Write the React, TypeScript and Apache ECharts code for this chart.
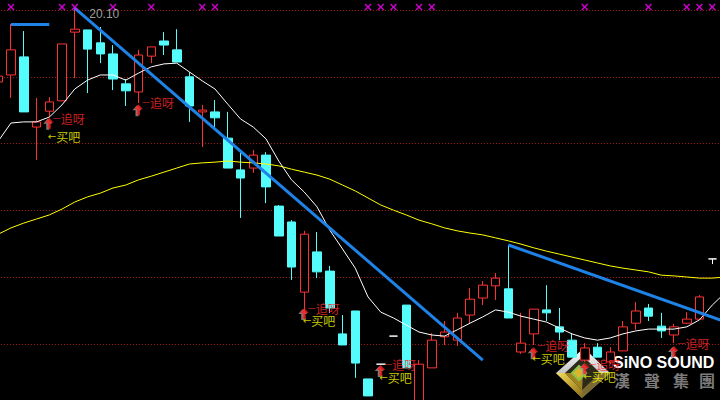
import React, { useEffect, useRef } from "react";
import * as echarts from "echarts";

// Daily candles, oldest first (the first one is cut by the left edge)
const opens = [18.10, 18.29, 18.78, 16.88, 17.31, 17.59, 19.45, 19.51, 19.16, 18.86, 18.05, 17.83, 18.80, 19.21, 18.97, 18.24, 17.29, 17.29, 16.58, 15.72, 15.77, 16.12, 14.74, 14.31, 12.41, 13.50, 12.98, 11.28, 11.90, 10.06, 10.46, 11.22, 12.06, 9.44, 10.36, 11.20, 11.11, 11.79, 12.25, 12.58, 12.50, 10.79, 11.28, 11.93, 11.47, 11.11, 10.57, 10.92, 10.52, 10.82, 11.57, 11.98, 11.49, 11.25, 11.57, 11.68, 13.31];
const closes = [18.26, 18.97, 17.29, 17.02, 17.56, 19.13, 19.53, 18.99, 18.86, 18.18, 17.86, 18.83, 19.05, 19.10, 18.64, 17.45, 17.34, 17.13, 15.77, 15.50, 16.12, 15.26, 13.93, 13.09, 13.98, 12.96, 11.98, 10.98, 10.49, 9.60, 10.46, 11.22, 10.36, 10.46, 11.11, 11.33, 11.71, 12.22, 12.60, 12.79, 11.71, 11.03, 11.95, 11.85, 11.33, 10.65, 10.90, 10.65, 10.79, 11.47, 11.90, 11.76, 11.36, 11.47, 11.68, 12.28, 13.31];
const lows = [18.05, 17.67, 17.29, 15.99, 17.15, 17.59, 18.21, 17.80, 18.61, 17.88, 17.45, 17.53, 18.61, 18.83, 18.64, 17.02, 16.34, 16.85, 15.77, 14.42, 15.64, 14.82, 13.93, 12.74, 11.85, 12.79, 11.85, 10.98, 10.09, 9.60, 10.46, 11.22, 10.36, 9.38, 10.36, 10.98, 10.95, 11.57, 12.06, 12.20, 11.71, 10.74, 10.98, 11.63, 11.11, 10.65, 10.52, 10.65, 10.46, 10.82, 11.39, 11.63, 11.17, 11.03, 11.55, 11.68, 13.17];
const highs = [18.32, 19.67, 19.48, 17.67, 17.69, 19.13, 20.10, 19.51, 19.59, 19.10, 18.18, 18.97, 19.05, 19.45, 19.53, 18.37, 17.48, 17.61, 17.29, 16.20, 16.26, 16.20, 14.77, 14.36, 14.07, 14.04, 13.12, 11.79, 11.90, 10.06, 10.46, 11.22, 12.06, 10.57, 11.30, 11.63, 11.85, 12.52, 12.71, 12.93, 13.69, 11.85, 11.95, 12.60, 11.98, 11.30, 11.03, 11.03, 10.92, 11.63, 12.14, 12.09, 11.85, 11.55, 11.87, 12.33, 13.31];

// Moving averages (one more slot than the candles, running off the right edge)
const maShort = [16.50, 16.99, 17.02, 17.02, 17.15, 17.48, 17.91, 18.15, 18.29, 18.29, 18.15, 18.34, 18.51, 18.59, 18.61, 18.37, 18.13, 17.91, 17.50, 17.10, 16.88, 16.56, 15.96, 15.45, 15.12, 14.72, 14.09, 13.58, 13.06, 12.28, 11.87, 11.71, 11.52, 11.33, 11.25, 11.22, 11.39, 11.57, 11.74, 11.93, 11.87, 11.76, 11.68, 11.60, 11.44, 11.28, 11.17, 11.11, 11.17, 11.28, 11.36, 11.41, 11.41, 11.41, 11.47, 11.66, 12.06, 12.39];
const maLong = [13.98, 14.15, 14.28, 14.39, 14.50, 14.66, 14.85, 14.99, 15.09, 15.23, 15.31, 15.45, 15.55, 15.66, 15.77, 15.88, 15.91, 15.93, 15.96, 15.93, 15.91, 15.88, 15.83, 15.74, 15.66, 15.58, 15.47, 15.31, 15.15, 14.96, 14.77, 14.63, 14.50, 14.36, 14.26, 14.15, 14.07, 14.01, 13.96, 13.88, 13.80, 13.71, 13.61, 13.52, 13.44, 13.36, 13.28, 13.20, 13.12, 13.06, 13.01, 12.96, 12.87, 12.85, 12.82, 12.79, 12.79, 12.82];

const categories = maLong.map((_, j) => "K" + j);

const gridLevels = [20.05, 18.24, 16.43, 14.62, 12.81, 11.0];
const dojiIdx = [30, 31, 56];

const chaseIdx = [4, 11, 24, 30, 42, 46, 53];
const chaseArrowTop = [17.13, 17.5, 11.98, 10.44, 10.92, 10.49, 10.95];
const chaseLabelY = [17.1, 17.53, 11.96, 10.43, 10.95, 10.45, 11.01];
const buyIdx = [4, 24, 30, 42, 46];
const buyLabelY = [16.61, 11.62, 10.08, 10.6, 10.1];

const signalIdx = [1, 5, 6, 9, 12, 16, 17, 29, 30, 31, 33, 34, 46, 51, 54, 55, 56];
const signalLevel = 20.13;

const trendLines: Array<[[number, number], [number, number]]> = [
  [[6, 20.1], [38, 10.57]],
  [[40, 13.69], [57, 11.61]],
  [[1, 19.67], [4, 19.67]],
];

const extremeIdx = [6, 33];
const extremeValue = [20.1, 9.38];
const extremeText = ["20.10", "9.38"];

const Y_MIN = 9.49;
const Y_MAX = 20.32;

// the chart canvas starts a little left of the visible page so the first candle is cut
const SHIFT = 9;

const RED = "#ff3232";
const CYAN = "#54fcfc";
const ARROW = "path://M4.5,0 L9,5 L6,5 L6,11 L3,11 L3,5 L0,5 Z";
const XMARK = "path://M0,1.5 L1.5,0 L5,3.5 L8.5,0 L10,1.5 L6.5,5 L10,8.5 L8.5,10 L5,6.5 L1.5,10 L0,8.5 L3.5,5 Z";
const CJK = '"Noto Sans CJK SC", sans-serif';

function buildOption() {
  const candleData = opens.map((o, j) => {
    const v = [o, closes[j], lows[j], highs[j]];
    if (dojiIdx.includes(j)) {
      return {
        value: v,
        itemStyle: { color: "#fff", color0: "#fff", borderColor: "#fff", borderColor0: "#fff" },
      };
    }
    return v;
  });

  const gold = new echarts.graphic.LinearGradient(0, 0, 1, 1, [
    { offset: 0, color: "#f6de5a" },
    { offset: 1, color: "#8a6a10" },
  ]);
  const silver = new echarts.graphic.LinearGradient(0, 0, 0, 1, [
    { offset: 0, color: "#ffffff" },
    { offset: 1, color: "#8a8a8a" },
  ]);

  return {
    animation: false,
    backgroundColor: "#000",
    grid: { left: 0.875, top: 0, width: 739.5, height: 400 },
    xAxis: { type: "category", data: categories, show: false, boundaryGap: true },
    yAxis: { type: "value", min: Y_MIN, max: Y_MAX, show: false, splitLine: { show: false } },
    series: [
      {
        type: "line",
        name: "MA long",
        data: maLong,
        symbol: "none",
        silent: true,
        z: 3,
        lineStyle: { color: "#ffff00", width: 1 },
        markLine: {
          silent: true,
          z: 1,
          symbol: ["none", "none"],
          label: { show: false },
          lineStyle: { color: "#a81c1c", type: [1, 2], width: 1 },
          data: gridLevels.map((v) => ({ yAxis: v })),
        },
      },
      {
        type: "candlestick",
        data: candleData,
        barWidth: 9,
        silent: true,
        z: 2,
        itemStyle: {
          color: "#000",
          color0: CYAN,
          borderColor: RED,
          borderColor0: CYAN,
          borderWidth: 1,
        },
        markLine: {
          silent: true,
          z: 4,
          symbol: ["none", "none"],
          label: { show: false },
          lineStyle: { color: "#1e82e6", width: 3, type: "solid" },
          data: trendLines.map(([a, b]) => [{ coord: a }, { coord: b }]),
        },
      },
      {
        type: "line",
        name: "MA short",
        data: maShort,
        symbol: "none",
        silent: true,
        z: 3,
        lineStyle: { color: "#ffffff", width: 1 },
      },
      {
        type: "scatter",
        data: signalIdx.map((j) => [j, signalLevel]),
        symbol: XMARK,
        symbolSize: 7,
        silent: true,
        z: 5,
        itemStyle: { color: "#ff00ff" },
      },
      {
        type: "scatter",
        data: chaseIdx.map((j, k) => [j, chaseArrowTop[k]]),
        symbol: ARROW,
        symbolSize: [9, 11],
        symbolOffset: [-1.5, 6.5],
        silent: true,
        z: 6,
        itemStyle: { color: "#9a9a9a" },
      },
      {
        type: "scatter",
        data: chaseIdx.map((j, k) => [j, chaseArrowTop[k]]),
        symbol: ARROW,
        symbolSize: [9, 11],
        symbolOffset: [0, 5.5],
        silent: true,
        z: 6,
        itemStyle: { color: "#ff1e1e" },
      },
      {
        type: "scatter",
        data: chaseIdx.map((j, k) => [j, chaseLabelY[k]]),
        symbolSize: 1,
        silent: true,
        z: 7,
        itemStyle: { color: "rgba(0,0,0,0)" },
        label: {
          show: true,
          position: [4, 0],
          align: "left",
          verticalAlign: "middle",
          lineHeight: 12,
          formatter: "{d|—}{t|追呀}",
          rich: {
            d: { color: "#ff2a2a", fontSize: 8, lineHeight: 12, fontFamily: "DejaVu Sans" },
            t: { color: "#ff2a2a", fontSize: 12, lineHeight: 12, fontFamily: CJK },
          },
        },
      },
      {
        type: "scatter",
        data: buyIdx.map((j, k) => [j, buyLabelY[k]]),
        symbolSize: 1,
        silent: true,
        z: 7,
        itemStyle: { color: "rgba(0,0,0,0)" },
        label: {
          show: true,
          position: [-1, 0],
          align: "left",
          verticalAlign: "middle",
          lineHeight: 12,
          formatter: "{a|←}{t|买吧}",
          rich: {
            a: { color: "#ffff00", fontSize: 10, lineHeight: 12, fontFamily: "DejaVu Sans" },
            t: { color: "#ffff00", fontSize: 12, lineHeight: 12, fontFamily: CJK },
          },
        },
      },
      {
        type: "scatter",
        data: extremeIdx.map((j, k) => ({
          value: [j, extremeValue[k]],
          name: extremeText[k],
          label: { position: k === 0 ? [15, 6] : [13, -2] },
        })),
        symbolSize: 1,
        silent: true,
        z: 7,
        itemStyle: { color: "rgba(0,0,0,0)" },
        label: {
          show: true,
          align: "left",
          verticalAlign: "middle",
          formatter: "{b}",
          color: "#c8c8c8",
          fontSize: 12,
          fontFamily: '"Liberation Sans", Arial, sans-serif',
        },
      },
    ],
    graphic: [
      {
        type: "group",
        x: SHIFT,
        z: 5,
        silent: true,
        children: [
          { type: "polygon", shape: { points: [[584, 348], [610, 373], [582, 398], [556, 373]] }, style: { fill: silver } },
          { type: "polygon", shape: { points: [[556, 373], [583, 373], [582, 398]] }, style: { fill: gold } },
          { type: "polygon", shape: { points: [[583, 373], [610, 373], [582, 398]] }, style: { fill: "#7a6a30" } },
          { type: "polygon", shape: { points: [[583, 356], [600, 373], [582, 390], [565, 373]] }, style: { fill: "#2e2a1a" } },
          { type: "polygon", shape: { points: [[565, 373], [583, 373], [582, 390]] }, style: { fill: "#a08420" } },
          { type: "polygon", shape: { points: [[579, 366], [586, 373], [579, 380], [572, 373]] }, style: { fill: "#d9b62a", stroke: "#8bc34a", lineWidth: 2 } },
          {
            type: "text",
            x: 613,
            y: 362,
            style: { text: "SiNO SOUND", fill: "#ffffff", font: 'bold 16px "Liberation Sans", Arial, sans-serif', verticalAlign: "middle", align: "left" },
          },
          ...["漢", "聲", "集", "團"].map((ch, k) => ({
            type: "text",
            x: [622, 652, 681, 707][k],
            y: 380,
            style: { text: ch, fill: "#7c7c7c", font: 'bold 16px "Noto Sans CJK TC", sans-serif', verticalAlign: "middle", align: "center" },
          })),
        ],
      },
    ],
  };
}

export default function App() {
  const ref = useRef<HTMLDivElement>(null);
  useEffect(() => {
    document.body.style.margin = "0";
    document.body.style.overflow = "hidden";
    const chart = echarts.init(ref.current as HTMLDivElement, null, { renderer: "svg" });
    chart.setOption(buildOption() as any);
    return () => chart.dispose();
  }, []);
  return (
    <div style={{ position: "absolute", left: 0, top: 0, width: 720, height: 400, overflow: "hidden", background: "#000" }}>
      <div
        ref={ref}
        style={{ position: "absolute", left: -SHIFT, top: 0, width: 741, height: 400 }}
      />
    </div>
  );
}
